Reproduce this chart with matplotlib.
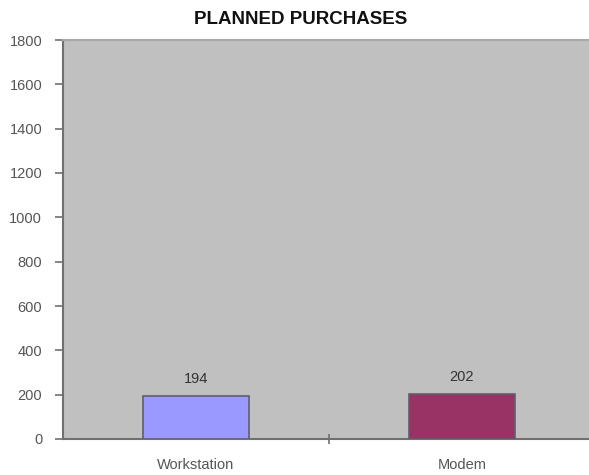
import matplotlib
matplotlib.use("Agg")
import matplotlib.pyplot as plt
from matplotlib.ticker import FixedLocator

categories = ["Workstation", "Modem"]
values = [194, 202]
bar_colors = ["#9999FF", "#993366"]
y_ticks = [0, 200, 400, 600, 800, 1000, 1200, 1400, 1600, 1800]

plt.rcParams["font.family"] = ["Liberation Sans", "DejaVu Sans"]

fig = plt.figure(figsize=(5.89, 4.75), dpi=100)
fig.patch.set_facecolor("white")
ax = fig.add_axes([63 / 589, 36 / 475, 532 / 589, 399 / 475])
ax.set_facecolor("#C0C0C0")

x = list(range(len(categories)))
bars = ax.bar(x, values, width=0.4, color=bar_colors, edgecolor="#5f5f6a", linewidth=1.2, zorder=3)

for xi, v in zip(x, values):
    ax.text(xi, v + 45, str(v), ha="center", va="bottom", fontsize=10.5, color="#333333")

ax.set_xlim(-0.5, 1.5)
ax.set_ylim(0, 1800)
ax.set_yticks(y_ticks)
ax.set_yticklabels([str(t) for t in y_ticks], fontsize=10.5, color="#555555")
ax.set_xticks(x)
ax.set_xticklabels(categories, fontsize=10.5, color="#555555")
ax.tick_params(axis="x", which="major", length=0, pad=14)
ax.xaxis.set_minor_locator(FixedLocator([0.5]))
ax.tick_params(axis="x", which="minor", length=7, width=1.2, color="#707070", direction="inout")
ax.tick_params(axis="y", length=6, width=1.2, color="#707070", direction="out", pad=9)

for side in ("left", "bottom"):
    ax.spines[side].set_color("#707070")
    ax.spines[side].set_linewidth(1.5)
ax.spines["top"].set_color("#A8A8A8")
ax.spines["top"].set_linewidth(1.5)
ax.spines["right"].set_visible(False)

fig.text(301 / 589, 1 - 19 / 475, "PLANNED PURCHASES", ha="center", va="center",
         fontsize=13.5, fontweight="bold", color="#111111")

fig.savefig("out.png", dpi=100)
